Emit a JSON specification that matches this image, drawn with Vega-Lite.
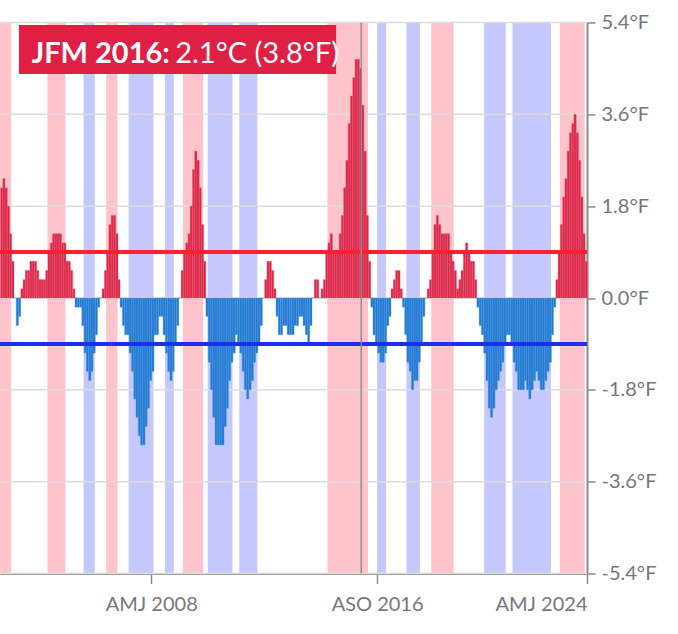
{
  "$schema": "https://vega.github.io/schema/vega-lite/v6.json",
  "width": 587,
  "height": 551,
  "autosize": "none",
  "padding": {"left": 0, "top": 22.5, "right": 91, "bottom": 60.5},
  "background": "white",
  "config": {"view": {"stroke": null}, "font": "Lato", "axis": {"grid": false}},
  "datasets": {
    "oni": [
      {"d":"2002-10","v":1.2},{"d":"2002-11","v":1.3},{"d":"2002-12","v":1.2},
      {"d":"2003-01","v":1.0},{"d":"2003-02","v":0.7},{"d":"2003-03","v":0.4},{"d":"2003-04","v":0.0},{"d":"2003-05","v":-0.3},{"d":"2003-06","v":-0.2},{"d":"2003-07","v":0.1},{"d":"2003-08","v":0.2},{"d":"2003-09","v":0.3},{"d":"2003-10","v":0.3},{"d":"2003-11","v":0.4},{"d":"2003-12","v":0.4},
      {"d":"2004-01","v":0.4},{"d":"2004-02","v":0.3},{"d":"2004-03","v":0.2},{"d":"2004-04","v":0.2},{"d":"2004-05","v":0.2},{"d":"2004-06","v":0.3},{"d":"2004-07","v":0.5},{"d":"2004-08","v":0.6},{"d":"2004-09","v":0.7},{"d":"2004-10","v":0.7},{"d":"2004-11","v":0.7},{"d":"2004-12","v":0.7},
      {"d":"2005-01","v":0.6},{"d":"2005-02","v":0.6},{"d":"2005-03","v":0.4},{"d":"2005-04","v":0.4},{"d":"2005-05","v":0.3},{"d":"2005-06","v":0.1},{"d":"2005-07","v":-0.1},{"d":"2005-08","v":-0.1},{"d":"2005-09","v":-0.1},{"d":"2005-10","v":-0.3},{"d":"2005-11","v":-0.6},{"d":"2005-12","v":-0.8},
      {"d":"2006-01","v":-0.9},{"d":"2006-02","v":-0.8},{"d":"2006-03","v":-0.6},{"d":"2006-04","v":-0.4},{"d":"2006-05","v":-0.1},{"d":"2006-06","v":0.0},{"d":"2006-07","v":0.1},{"d":"2006-08","v":0.3},{"d":"2006-09","v":0.5},{"d":"2006-10","v":0.8},{"d":"2006-11","v":0.9},{"d":"2006-12","v":0.9},
      {"d":"2007-01","v":0.7},{"d":"2007-02","v":0.2},{"d":"2007-03","v":-0.1},{"d":"2007-04","v":-0.3},{"d":"2007-05","v":-0.4},{"d":"2007-06","v":-0.4},{"d":"2007-07","v":-0.6},{"d":"2007-08","v":-0.8},{"d":"2007-09","v":-1.1},{"d":"2007-10","v":-1.3},{"d":"2007-11","v":-1.5},{"d":"2007-12","v":-1.6},
      {"d":"2008-01","v":-1.6},{"d":"2008-02","v":-1.4},{"d":"2008-03","v":-1.2},{"d":"2008-04","v":-0.9},{"d":"2008-05","v":-0.8},{"d":"2008-06","v":-0.4},{"d":"2008-07","v":-0.4},{"d":"2008-08","v":-0.2},{"d":"2008-09","v":-0.2},{"d":"2008-10","v":-0.4},{"d":"2008-11","v":-0.6},{"d":"2008-12","v":-0.8},
      {"d":"2009-01","v":-0.9},{"d":"2009-02","v":-0.8},{"d":"2009-03","v":-0.5},{"d":"2009-04","v":-0.3},{"d":"2009-05","v":0.0},{"d":"2009-06","v":0.3},{"d":"2009-07","v":0.5},{"d":"2009-08","v":0.6},{"d":"2009-09","v":0.7},{"d":"2009-10","v":1.0},{"d":"2009-11","v":1.4},{"d":"2009-12","v":1.6},
      {"d":"2010-01","v":1.5},{"d":"2010-02","v":1.2},{"d":"2010-03","v":0.8},{"d":"2010-04","v":0.4},{"d":"2010-05","v":-0.2},{"d":"2010-06","v":-0.7},{"d":"2010-07","v":-1.0},{"d":"2010-08","v":-1.3},{"d":"2010-09","v":-1.6},{"d":"2010-10","v":-1.6},{"d":"2010-11","v":-1.6},{"d":"2010-12","v":-1.6},
      {"d":"2011-01","v":-1.4},{"d":"2011-02","v":-1.2},{"d":"2011-03","v":-0.9},{"d":"2011-04","v":-0.7},{"d":"2011-05","v":-0.6},{"d":"2011-06","v":-0.4},{"d":"2011-07","v":-0.5},{"d":"2011-08","v":-0.6},{"d":"2011-09","v":-0.8},{"d":"2011-10","v":-1.0},{"d":"2011-11","v":-1.1},{"d":"2011-12","v":-1.0},
      {"d":"2012-01","v":-0.9},{"d":"2012-02","v":-0.7},{"d":"2012-03","v":-0.6},{"d":"2012-04","v":-0.5},{"d":"2012-05","v":-0.3},{"d":"2012-06","v":0.0},{"d":"2012-07","v":0.2},{"d":"2012-08","v":0.4},{"d":"2012-09","v":0.4},{"d":"2012-10","v":0.3},{"d":"2012-11","v":0.1},{"d":"2012-12","v":-0.2},
      {"d":"2013-01","v":-0.4},{"d":"2013-02","v":-0.4},{"d":"2013-03","v":-0.3},{"d":"2013-04","v":-0.3},{"d":"2013-05","v":-0.4},{"d":"2013-06","v":-0.4},{"d":"2013-07","v":-0.4},{"d":"2013-08","v":-0.3},{"d":"2013-09","v":-0.3},{"d":"2013-10","v":-0.2},{"d":"2013-11","v":-0.2},{"d":"2013-12","v":-0.3},
      {"d":"2014-01","v":-0.4},{"d":"2014-02","v":-0.5},{"d":"2014-03","v":-0.3},{"d":"2014-04","v":0.0},{"d":"2014-05","v":0.2},{"d":"2014-06","v":0.2},{"d":"2014-07","v":0.0},{"d":"2014-08","v":0.1},{"d":"2014-09","v":0.2},{"d":"2014-10","v":0.5},{"d":"2014-11","v":0.6},{"d":"2014-12","v":0.7},
      {"d":"2015-01","v":0.5},{"d":"2015-02","v":0.5},{"d":"2015-03","v":0.5},{"d":"2015-04","v":0.7},{"d":"2015-05","v":0.9},{"d":"2015-06","v":1.2},{"d":"2015-07","v":1.5},{"d":"2015-08","v":1.9},{"d":"2015-09","v":2.2},{"d":"2015-10","v":2.4},{"d":"2015-11","v":2.6},{"d":"2015-12","v":2.6},
      {"d":"2016-01","v":2.5},{"d":"2016-02","v":2.1},{"d":"2016-03","v":1.6},{"d":"2016-04","v":0.9},{"d":"2016-05","v":0.4},{"d":"2016-06","v":-0.1},{"d":"2016-07","v":-0.4},{"d":"2016-08","v":-0.5},{"d":"2016-09","v":-0.6},{"d":"2016-10","v":-0.7},{"d":"2016-11","v":-0.7},{"d":"2016-12","v":-0.6},
      {"d":"2017-01","v":-0.3},{"d":"2017-02","v":-0.2},{"d":"2017-03","v":0.1},{"d":"2017-04","v":0.2},{"d":"2017-05","v":0.3},{"d":"2017-06","v":0.3},{"d":"2017-07","v":0.1},{"d":"2017-08","v":-0.1},{"d":"2017-09","v":-0.4},{"d":"2017-10","v":-0.7},{"d":"2017-11","v":-0.8},{"d":"2017-12","v":-1.0},
      {"d":"2018-01","v":-0.9},{"d":"2018-02","v":-0.9},{"d":"2018-03","v":-0.7},{"d":"2018-04","v":-0.5},{"d":"2018-05","v":-0.2},{"d":"2018-06","v":0.0},{"d":"2018-07","v":0.1},{"d":"2018-08","v":0.2},{"d":"2018-09","v":0.5},{"d":"2018-10","v":0.8},{"d":"2018-11","v":0.9},{"d":"2018-12","v":0.8},
      {"d":"2019-01","v":0.7},{"d":"2019-02","v":0.7},{"d":"2019-03","v":0.7},{"d":"2019-04","v":0.7},{"d":"2019-05","v":0.5},{"d":"2019-06","v":0.4},{"d":"2019-07","v":0.3},{"d":"2019-08","v":0.1},{"d":"2019-09","v":0.2},{"d":"2019-10","v":0.3},{"d":"2019-11","v":0.5},{"d":"2019-12","v":0.6},
      {"d":"2020-01","v":0.5},{"d":"2020-02","v":0.4},{"d":"2020-03","v":0.4},{"d":"2020-04","v":0.2},{"d":"2020-05","v":-0.1},{"d":"2020-06","v":-0.3},{"d":"2020-07","v":-0.4},{"d":"2020-08","v":-0.6},{"d":"2020-09","v":-0.9},{"d":"2020-10","v":-1.2},{"d":"2020-11","v":-1.3},{"d":"2020-12","v":-1.2},
      {"d":"2021-01","v":-1.0},{"d":"2021-02","v":-0.9},{"d":"2021-03","v":-0.8},{"d":"2021-04","v":-0.7},{"d":"2021-05","v":-0.5},{"d":"2021-06","v":-0.4},{"d":"2021-07","v":-0.4},{"d":"2021-08","v":-0.5},{"d":"2021-09","v":-0.7},{"d":"2021-10","v":-0.8},{"d":"2021-11","v":-1.0},{"d":"2021-12","v":-1.0},
      {"d":"2022-01","v":-1.0},{"d":"2022-02","v":-0.9},{"d":"2022-03","v":-1.0},{"d":"2022-04","v":-1.1},{"d":"2022-05","v":-1.0},{"d":"2022-06","v":-0.9},{"d":"2022-07","v":-0.8},{"d":"2022-08","v":-0.9},{"d":"2022-09","v":-1.0},{"d":"2022-10","v":-1.0},{"d":"2022-11","v":-0.9},{"d":"2022-12","v":-0.8},
      {"d":"2023-01","v":-0.7},{"d":"2023-02","v":-0.4},{"d":"2023-03","v":-0.1},{"d":"2023-04","v":0.2},{"d":"2023-05","v":0.5},{"d":"2023-06","v":0.8},{"d":"2023-07","v":1.1},{"d":"2023-08","v":1.3},{"d":"2023-09","v":1.6},{"d":"2023-10","v":1.8},{"d":"2023-11","v":1.9},{"d":"2023-12","v":2.0},
      {"d":"2024-01","v":1.8},{"d":"2024-02","v":1.5},{"d":"2024-03","v":1.1},{"d":"2024-04","v":0.7},{"d":"2024-05","v":0.4}
    ],
    "episodes": [
      {"start":"2002-06-01","end":"2003-03-01","kind":"El Niño"},
      {"start":"2004-07-01","end":"2005-03-01","kind":"El Niño"},
      {"start":"2006-09-01","end":"2007-02-01","kind":"El Niño"},
      {"start":"2009-07-01","end":"2010-04-01","kind":"El Niño"},
      {"start":"2014-11-01","end":"2016-05-01","kind":"El Niño"},
      {"start":"2018-09-01","end":"2019-07-01","kind":"El Niño"},
      {"start":"2023-06-01","end":"2024-05-01","kind":"El Niño"},
      {"start":"2005-11-01","end":"2006-04-01","kind":"La Niña"},
      {"start":"2007-07-01","end":"2008-06-01","kind":"La Niña"},
      {"start":"2008-11-01","end":"2009-03-01","kind":"La Niña"},
      {"start":"2010-06-01","end":"2011-05-01","kind":"La Niña"},
      {"start":"2011-08-01","end":"2012-04-01","kind":"La Niña"},
      {"start":"2016-09-01","end":"2017-01-01","kind":"La Niña"},
      {"start":"2017-10-01","end":"2018-04-01","kind":"La Niña"},
      {"start":"2020-08-15","end":"2021-06-01","kind":"La Niña"},
      {"start":"2021-09-01","end":"2023-02-01","kind":"La Niña"}
    ],
    "grid": [{"g":-3},{"g":-2},{"g":-1},{"g":0},{"g":1},{"g":2},{"g":3}]
  },
  "layer": [
    {
      "data": {"name": "episodes"},
      "mark": {"type": "rect", "clip": true},
      "encoding": {
        "x": {"field": "start", "type": "temporal", "title": null,
              "scale": {"type": "utc", "domain": [{"year":2002,"month":10,"date":1,"utc":true},{"year":2024,"month":6,"date":1,"utc":true}]},
              "axis": {"orient": "bottom", "values": [{"year":2008,"month":5,"date":1,"utc":true},{"year":2016,"month":9,"date":1,"utc":true},{"year":2024,"month":6,"date":1,"utc":true}],
                       "labelExpr": "(utcFormat(datum.value, '%m') == '09' ? 'ASO ' : 'AMJ ') + utcFormat(datum.value, '%Y')",
                       "domainColor": "#8a8a8a", "domainWidth": 2, "tickColor": "#8a8a8a", "tickWidth": 1.5, "tickSize": 10,
                       "labelColor": "#777777", "labelFont": "Lato", "labelFontSize": 20, "labelPadding": 11, "grid": false}},
        "x2": {"field": "end"},
        "y": {"datum": 3, "type": "quantitative", "title": null,
              "scale": {"domain": [-3, 3], "nice": false},
              "axis": {"orient": "right", "values": [-3,-2,-1,0,1,2,3],
                       "labelExpr": "(datum.value < 0 ? '-' : '') + format(abs(datum.value) * 1.8, '.1f') + '°F'",
                       "domainColor": "#8a8a8a", "domainWidth": 2, "tickColor": "#8a8a8a", "tickWidth": 1.5, "tickSize": 8,
                       "labelColor": "#777777", "labelFont": "Lato", "labelFontSize": 20, "labelPadding": 6, "grid": false}},
        "y2": {"datum": -3},
        "color": {"field": "kind", "type": "nominal", "legend": null,
                  "scale": {"domain": ["El Niño", "La Niña"], "range": ["#ffc4cb", "#c4c8fc"]}}
      }
    },
    {
      "data": {"name": "grid"},
      "mark": {"type": "rule", "color": "#dcdcdc", "strokeWidth": 1.5},
      "encoding": {"y": {"field": "g", "type": "quantitative", "title": null}}
    },
    {
      "data": {"name": "oni"},
      "mark": {"type": "bar", "binSpacing": 0, "strokeWidth": 0.4},
      "encoding": {
        "x": {"field": "d", "type": "temporal", "timeUnit": "utcyearmonth", "title": null},
        "y": {"field": "v", "type": "quantitative", "title": null},
        "color": {"condition": {"test": "datum.v > 0", "value": "#dc2446"}, "value": "#1e78d2"},
        "stroke": {"condition": {"test": "datum.v > 0", "value": "#e9677f"}, "value": "#5a9fe2"}
      }
    },
    {
      "data": {"values": [{}]},
      "mark": {"type": "rule", "color": "#ff1f2f", "strokeWidth": 4},
      "encoding": {"y": {"datum": 0.5, "type": "quantitative", "title": null}}
    },
    {
      "data": {"values": [{}]},
      "mark": {"type": "rule", "color": "#1a2ff0", "strokeWidth": 4},
      "encoding": {"y": {"datum": -0.5, "type": "quantitative", "title": null}}
    },
    {
      "data": {"values": [{}]},
      "mark": {"type": "rule", "color": "#8c8c8c", "strokeWidth": 1.5},
      "encoding": {"x": {"datum": {"year":2016,"month":2,"date":1,"utc":true}, "type": "temporal", "title": null}}
    },
    {
      "data": {"values": [{}]},
      "mark": {"type": "rect", "color": "#df1f43"},
      "encoding": {
        "x": {"datum": {"year":2003,"month":6,"date":13,"utc":true}, "type": "temporal", "title": null},
        "x2": {"datum": {"year":2015,"month":2,"date":27,"utc":true}},
        "y": {"datum": 2.973, "type": "quantitative", "title": null},
        "y2": {"datum": 2.439}
      }
    },
    {
      "data": {"values": [{"label": "JFM 2016:"}]},
      "mark": {"type": "text", "color": "white", "font": "Lato", "fontWeight": "bold", "fontSize": 29, "align": "left", "baseline": "alphabetic"},
      "encoding": {
        "x": {"datum": {"year":2003,"month":12,"date":2,"utc":true}, "type": "temporal", "title": null},
        "y": {"datum": 2.559, "type": "quantitative", "title": null},
        "text": {"field": "label"}
      }
    },
    {
      "data": {"values": [{"label": "2.1°C (3.8°F)"}]},
      "mark": {"type": "text", "color": "white", "font": "Lato", "fontWeight": "normal", "fontSize": 29, "align": "left", "baseline": "alphabetic"},
      "encoding": {
        "x": {"datum": {"year":2009,"month":3,"date":20,"utc":true}, "type": "temporal", "title": null},
        "y": {"datum": 2.559, "type": "quantitative", "title": null},
        "text": {"field": "label"}
      }
    }
  ]
}
